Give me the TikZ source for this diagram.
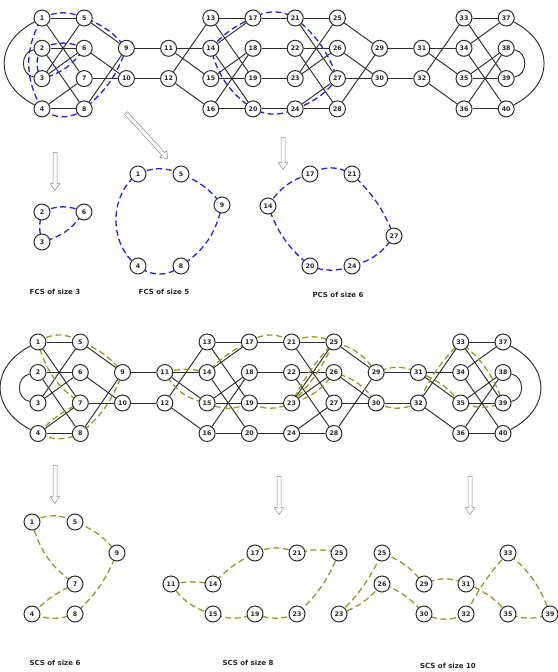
\documentclass[tikz,border=0pt]{standalone}
\usepackage{fontspec}
\setmainfont{DejaVu Sans}
\usetikzlibrary{shapes.arrows}
\pgfdeclarelayer{bg}
\pgfsetlayers{bg,main}
\definecolor{edgegray}{RGB}{45,45,45}
\definecolor{fcsblue}{RGB}{34,34,238}
\definecolor{scsolive}{RGB}{153,153,34}
\tikzset{
  vtx/.style={circle, draw=edgegray, line width=1pt, fill=white, minimum size=16pt, inner sep=0pt, text=black!85, font=\bfseries\fontsize{6.3}{7}\selectfont},
  link/.style={draw=edgegray, line width=0.95pt},
  fcs/.style={draw=fcsblue, line width=1.3pt, dash pattern=on 6pt off 3.5pt},
  scs/.style={draw=scsolive, line width=1.3pt, dash pattern=on 6pt off 3.5pt},
  hollow/.style={single arrow, draw=black!45, fill=white, line width=0.5pt, inner xsep=0pt, inner ysep=1.75pt, minimum width=9pt, single arrow head extend=2.75pt, single arrow tip angle=70},
  sizelabel/.style={font=\bfseries\fontsize{7}{8}\selectfont, text=black!85}
}
\begin{document}
\begin{tikzpicture}[x=1pt, y=-1pt]
\useasboundingbox (0,0) rectangle (557,672);
% upper graph
\node[vtx] (t1) at (42,18) {1};
\node[vtx] (t2) at (42,48.3) {2};
\node[vtx] (t3) at (42,78.6) {3};
\node[vtx] (t4) at (42,108.9) {4};
\node[vtx] (t5) at (84.2,18) {5};
\node[vtx] (t6) at (84.2,48.3) {6};
\node[vtx] (t7) at (84.2,78.6) {7};
\node[vtx] (t8) at (84.2,108.9) {8};
\node[vtx] (t9) at (126.4,48.3) {9};
\node[vtx] (t10) at (126.4,78.6) {10};
\node[vtx] (t11) at (168.6,48.3) {11};
\node[vtx] (t12) at (168.6,78.6) {12};
\node[vtx] (t13) at (210.8,18) {13};
\node[vtx] (t14) at (210.8,48.3) {14};
\node[vtx] (t15) at (210.8,78.6) {15};
\node[vtx] (t16) at (210.8,108.9) {16};
\node[vtx] (t17) at (253,18) {17};
\node[vtx] (t18) at (253,48.3) {18};
\node[vtx] (t19) at (253,78.6) {19};
\node[vtx] (t20) at (253,108.9) {20};
\node[vtx] (t21) at (295.2,18) {21};
\node[vtx] (t22) at (295.2,48.3) {22};
\node[vtx] (t23) at (295.2,78.6) {23};
\node[vtx] (t24) at (295.2,108.9) {24};
\node[vtx] (t25) at (337.4,18) {25};
\node[vtx] (t26) at (337.4,48.3) {26};
\node[vtx] (t27) at (337.4,78.6) {27};
\node[vtx] (t28) at (337.4,108.9) {28};
\node[vtx] (t29) at (379.6,48.3) {29};
\node[vtx] (t30) at (379.6,78.6) {30};
\node[vtx] (t31) at (421.8,48.3) {31};
\node[vtx] (t32) at (421.8,78.6) {32};
\node[vtx] (t33) at (464,18) {33};
\node[vtx] (t34) at (464,48.3) {34};
\node[vtx] (t35) at (464,78.6) {35};
\node[vtx] (t36) at (464,108.9) {36};
\node[vtx] (t37) at (506.2,18) {37};
\node[vtx] (t38) at (506.2,48.3) {38};
\node[vtx] (t39) at (506.2,78.6) {39};
\node[vtx] (t40) at (506.2,108.9) {40};
\begin{pgfonlayer}{bg}
\draw[link] (t1) .. controls +(-48,25) and +(-48,-25) .. (t4);
\draw[link] (t2) .. controls +(-22,4) and +(-22,-4) .. (t3);
\draw[link] (t1) -- (t5);
\draw[link] (t1) -- (t7);
\draw[link] (t2) -- (t6);
\draw[link] (t2) -- (t8);
\draw[link] (t3) -- (t5);
\draw[link] (t3) -- (t6);
\draw[link] (t4) -- (t7);
\draw[link] (t4) -- (t8);
\draw[link] (t5) -- (t9);
\draw[link] (t6) -- (t10);
\draw[link] (t7) -- (t10);
\draw[link] (t8) -- (t9);
\draw[link] (t9) -- (t11);
\draw[link] (t10) -- (t12);
\draw[link] (t11) -- (t14);
\draw[link] (t11) -- (t15);
\draw[link] (t12) -- (t13);
\draw[link] (t12) -- (t16);
\draw[link] (t13) -- (t17);
\draw[link] (t13) -- (t19);
\draw[link] (t14) -- (t17);
\draw[link] (t14) -- (t20);
\draw[link] (t15) -- (t18);
\draw[link] (t15) -- (t19);
\draw[link] (t16) -- (t18);
\draw[link] (t16) -- (t20);
\draw[link] (t17) -- (t21);
\draw[link] (t18) -- (t22);
\draw[link] (t19) -- (t23);
\draw[link] (t20) -- (t24);
\draw[link] (t21) -- (t25);
\draw[link] (t21) -- (t27);
\draw[link] (t22) -- (t26);
\draw[link] (t22) -- (t28);
\draw[link] (t23) -- (t25);
\draw[link] (t23) -- (t26);
\draw[link] (t24) -- (t27);
\draw[link] (t24) -- (t28);
\draw[link] (t25) -- (t29);
\draw[link] (t26) -- (t30);
\draw[link] (t27) -- (t30);
\draw[link] (t28) -- (t29);
\draw[link] (t29) -- (t31);
\draw[link] (t30) -- (t32);
\draw[link] (t31) -- (t34);
\draw[link] (t31) -- (t35);
\draw[link] (t32) -- (t33);
\draw[link] (t32) -- (t36);
\draw[link] (t33) -- (t37);
\draw[link] (t33) -- (t39);
\draw[link] (t34) -- (t37);
\draw[link] (t34) -- (t40);
\draw[link] (t35) -- (t38);
\draw[link] (t35) -- (t39);
\draw[link] (t36) -- (t38);
\draw[link] (t36) -- (t40);
\draw[link] (t37) .. controls +(48,25) and +(48,-25) .. (t40);
\draw[link] (t38) .. controls +(22,4) and +(22,-4) .. (t39);
\draw[fcs] (t2.center) to[bend left=25] (t6.center) to[bend left=20] (t3.center) to[bend left=35] (t2.center);
\draw[fcs] (t1.center) to[bend left=25] (t5.center) to[bend left=15] (t9.center) to[bend left=15] (t8.center) to[bend left=40] (t4.center) to[bend left=30] (t1.center);
\draw[fcs] (t14.center) to[bend left=12] (t17.center) to[bend left=30] (t21.center) to[bend left=15] (t27.center) to[bend left=15] (t24.center) to[bend left=25] (t20.center) to[bend left=20] (t14.center);
\end{pgfonlayer}
% arrows down to the subgraphs
\node[hollow, minimum height=38pt, rotate=-90] (ar1) at (55,170) {};
\node[hollow, minimum height=62pt, rotate=-47.6] (ar2) at (146,135) {};
\node[hollow, minimum height=32pt, rotate=-90] (ar3) at (283,152) {};
% FCS of size 3
\node[vtx] (fa2) at (42,212) {2};
\node[vtx] (fa6) at (84,212) {6};
\node[vtx] (fa3) at (42,242) {3};
\begin{pgfonlayer}{bg}
\draw[fcs] (fa2.center) to[bend left=25] (fa6.center) to[bend left=20] (fa3.center) to[bend left=15] (fa2.center);
\end{pgfonlayer}
\node[sizelabel] (la) at (55,292) {FCS of size 3};
% FCS of size 5
\node[vtx] (fb1) at (138,174) {1};
\node[vtx] (fb5) at (181,174) {5};
\node[vtx] (fb9) at (222,205) {9};
\node[vtx] (fb8) at (181,266) {8};
\node[vtx] (fb4) at (138,266) {4};
\begin{pgfonlayer}{bg}
\draw[fcs] (fb1.center) to[bend left=25] (fb5.center) to[bend left=15] (fb9.center) to[bend left=22] (fb8.center) to[bend left=40] (fb4.center) to[bend left=55] (fb1.center);
\end{pgfonlayer}
\node[sizelabel] (lb) at (164,292) {FCS of size 5};
% PCS of size 6
\node[vtx] (pc14) at (268,206) {14};
\node[vtx] (pc17) at (310,174) {17};
\node[vtx] (pc21) at (352,174) {21};
\node[vtx] (pc27) at (394,236) {27};
\node[vtx] (pc24) at (352,266) {24};
\node[vtx] (pc20) at (310,266) {20};
\begin{pgfonlayer}{bg}
\draw[fcs] (pc14.center) to[bend left=20] (pc17.center) to[bend left=30] (pc21.center) to[bend left=12] (pc27.center) to[bend left=20] (pc24.center) to[bend left=20] (pc20.center) to[bend left=15] (pc14.center);
\end{pgfonlayer}
\node[sizelabel] (lc) at (338,295) {PCS of size 6};
% lower graph
\node[vtx] (b1) at (38,342) {1};
\node[vtx] (b2) at (38,372.5) {2};
\node[vtx] (b3) at (38,403) {3};
\node[vtx] (b4) at (38,433.5) {4};
\node[vtx] (b5) at (80.3,342) {5};
\node[vtx] (b6) at (80.3,372.5) {6};
\node[vtx] (b7) at (80.3,403) {7};
\node[vtx] (b8) at (80.3,433.5) {8};
\node[vtx] (b9) at (122.5,372.5) {9};
\node[vtx] (b10) at (122.5,403) {10};
\node[vtx] (b11) at (164.8,372.5) {11};
\node[vtx] (b12) at (164.8,403) {12};
\node[vtx] (b13) at (207.1,342) {13};
\node[vtx] (b14) at (207.1,372.5) {14};
\node[vtx] (b15) at (207.1,403) {15};
\node[vtx] (b16) at (207.1,433.5) {16};
\node[vtx] (b17) at (249.4,342) {17};
\node[vtx] (b18) at (249.4,372.5) {18};
\node[vtx] (b19) at (249.4,403) {19};
\node[vtx] (b20) at (249.4,433.5) {20};
\node[vtx] (b21) at (291.6,342) {21};
\node[vtx] (b22) at (291.6,372.5) {22};
\node[vtx] (b23) at (291.6,403) {23};
\node[vtx] (b24) at (291.6,433.5) {24};
\node[vtx] (b25) at (333.9,342) {25};
\node[vtx] (b26) at (333.9,372.5) {26};
\node[vtx] (b27) at (333.9,403) {27};
\node[vtx] (b28) at (333.9,433.5) {28};
\node[vtx] (b29) at (376.2,372.5) {29};
\node[vtx] (b30) at (376.2,403) {30};
\node[vtx] (b31) at (418.4,372.5) {31};
\node[vtx] (b32) at (418.4,403) {32};
\node[vtx] (b33) at (460.7,342) {33};
\node[vtx] (b34) at (460.7,372.5) {34};
\node[vtx] (b35) at (460.7,403) {35};
\node[vtx] (b36) at (460.7,433.5) {36};
\node[vtx] (b37) at (503,342) {37};
\node[vtx] (b38) at (503,372.5) {38};
\node[vtx] (b39) at (503,403) {39};
\node[vtx] (b40) at (503,433.5) {40};
\begin{pgfonlayer}{bg}
\draw[link] (b1) .. controls +(-48,25) and +(-48,-25) .. (b4);
\draw[link] (b2) .. controls +(-22,4) and +(-22,-4) .. (b3);
\draw[link] (b1) -- (b5);
\draw[link] (b1) -- (b7);
\draw[link] (b2) -- (b6);
\draw[link] (b2) -- (b8);
\draw[link] (b3) -- (b5);
\draw[link] (b3) -- (b6);
\draw[link] (b4) -- (b7);
\draw[link] (b4) -- (b8);
\draw[link] (b5) -- (b9);
\draw[link] (b6) -- (b10);
\draw[link] (b7) -- (b10);
\draw[link] (b8) -- (b9);
\draw[link] (b9) -- (b11);
\draw[link] (b10) -- (b12);
\draw[link] (b11) -- (b14);
\draw[link] (b11) -- (b15);
\draw[link] (b12) -- (b13);
\draw[link] (b12) -- (b16);
\draw[link] (b13) -- (b17);
\draw[link] (b13) -- (b19);
\draw[link] (b14) -- (b17);
\draw[link] (b14) -- (b20);
\draw[link] (b15) -- (b18);
\draw[link] (b15) -- (b19);
\draw[link] (b16) -- (b18);
\draw[link] (b16) -- (b20);
\draw[link] (b17) -- (b21);
\draw[link] (b18) -- (b22);
\draw[link] (b19) -- (b23);
\draw[link] (b20) -- (b24);
\draw[link] (b21) -- (b25);
\draw[link] (b21) -- (b27);
\draw[link] (b22) -- (b26);
\draw[link] (b22) -- (b28);
\draw[link] (b23) -- (b25);
\draw[link] (b23) -- (b26);
\draw[link] (b24) -- (b27);
\draw[link] (b24) -- (b28);
\draw[link] (b25) -- (b29);
\draw[link] (b26) -- (b30);
\draw[link] (b27) -- (b30);
\draw[link] (b28) -- (b29);
\draw[link] (b29) -- (b31);
\draw[link] (b30) -- (b32);
\draw[link] (b31) -- (b34);
\draw[link] (b31) -- (b35);
\draw[link] (b32) -- (b33);
\draw[link] (b32) -- (b36);
\draw[link] (b33) -- (b37);
\draw[link] (b33) -- (b39);
\draw[link] (b34) -- (b37);
\draw[link] (b34) -- (b40);
\draw[link] (b35) -- (b38);
\draw[link] (b35) -- (b39);
\draw[link] (b36) -- (b38);
\draw[link] (b36) -- (b40);
\draw[link] (b37) .. controls +(48,25) and +(48,-25) .. (b40);
\draw[link] (b38) .. controls +(22,4) and +(22,-4) .. (b39);
\draw[scs] (b1.center) to[bend left=35] (b5.center) to[bend left=15] (b9.center) to[bend left=15] (b8.center) to[bend left=25] (b4.center) to[bend left=10] (b7.center) to[bend left=20] (b1.center);
\draw[scs] (b11.center) to[bend left=15] (b14.center) to[bend left=10] (b17.center) to[bend left=35] (b21.center) to[bend left=25] (b25.center) to[bend right=8] (b23.center) to[bend left=25] (b19.center) to[bend left=25] (b15.center) to[bend left=25] (b11.center);
\draw[scs] (b23.center) to[bend right=10] (b25.center) to[bend left=20] (b29.center) to[bend left=25] (b31.center) to[bend left=15] (b35.center) to[bend right=20] (b39.center) to[bend right=15] (b33.center) to[bend right=10] (b32.center) to[bend left=25] (b30.center) to[bend right=20] (b26.center) to[bend left=20] (b23.center);
\end{pgfonlayer}
% arrows down to the subgraphs
\node[hollow, minimum height=38pt, rotate=-90] (ar4) at (55,483) {};
\node[hollow, minimum height=38pt, rotate=-90] (ar5) at (279,494) {};
\node[hollow, minimum height=38pt, rotate=-90] (ar6) at (470,494) {};
% SCS of size 6
\node[vtx] (sa1) at (32,522) {1};
\node[vtx] (sa5) at (75,522) {5};
\node[vtx] (sa9) at (117,553) {9};
\node[vtx] (sa7) at (75,584) {7};
\node[vtx] (sa4) at (32,614) {4};
\node[vtx] (sa8) at (75,614) {8};
\begin{pgfonlayer}{bg}
\draw[scs] (sa1.center) to[bend left=30] (sa5.center) to[bend left=15] (sa9.center) to[bend left=12] (sa8.center) to[bend left=20] (sa4.center) to[bend left=10] (sa7.center) to[bend left=20] (sa1.center);
\end{pgfonlayer}
\node[sizelabel] (ld) at (55,663) {SCS of size 6};
% SCS of size 8
\node[vtx] (sb11) at (171,584) {11};
\node[vtx] (sb14) at (213,584) {14};
\node[vtx] (sb17) at (255,553) {17};
\node[vtx] (sb21) at (297,553) {21};
\node[vtx] (sb25) at (339,553) {25};
\node[vtx] (sb15) at (213,614) {15};
\node[vtx] (sb19) at (255,614) {19};
\node[vtx] (sb23) at (297,614) {23};
\begin{pgfonlayer}{bg}
\draw[scs] (sb11.center) to[bend left=10] (sb14.center) to[bend left=10] (sb17.center) to[bend left=25] (sb21.center) to[bend left=15] (sb25.center) to[bend left=12] (sb23.center) to[bend left=20] (sb19.center) to[bend left=20] (sb15.center) to[bend left=20] (sb11.center);
\end{pgfonlayer}
\node[sizelabel] (le) at (248,663) {SCS of size 8};
% SCS of size 10
\node[vtx] (sc23) at (339,614) {23};
\node[vtx] (sc25) at (382,553) {25};
\node[vtx] (sc26) at (382,584) {26};
\node[vtx] (sc29) at (424,584) {29};
\node[vtx] (sc31) at (466,584) {31};
\node[vtx] (sc30) at (424,614) {30};
\node[vtx] (sc32) at (466,614) {32};
\node[vtx] (sc33) at (508,553) {33};
\node[vtx] (sc35) at (508,614) {35};
\node[vtx] (sc39) at (550,614) {39};
\begin{pgfonlayer}{bg}
\draw[scs] (sc23.center) to[bend right=10] (sc25.center) to[bend left=15] (sc29.center) to[bend left=25] (sc31.center) to[bend left=15] (sc35.center) to[bend right=20] (sc39.center) to[bend right=15] (sc33.center) to[bend right=8] (sc32.center) to[bend left=25] (sc30.center) to[bend right=15] (sc26.center) to[bend left=15] (sc23.center);
\end{pgfonlayer}
\node[sizelabel] (lf) at (448,666) {SCS of size 10};
\end{tikzpicture}
\end{document}
